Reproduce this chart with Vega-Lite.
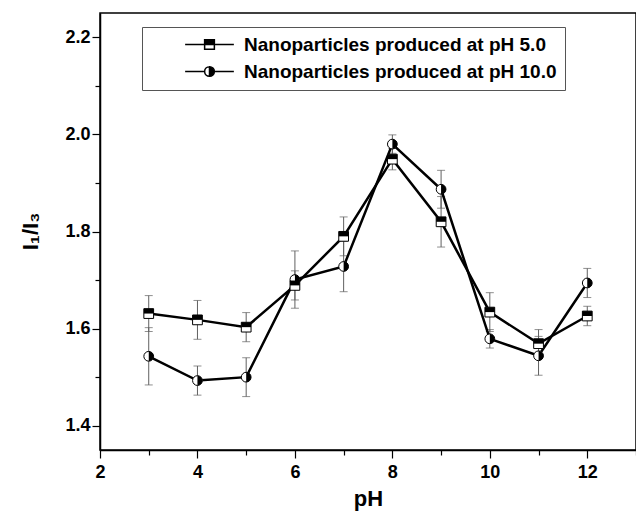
{
  "$schema": "https://vega.github.io/schema/vega-lite/v6.json",
  "autosize": {"type": "none"},
  "padding": {"left": 100, "top": 13, "right": 0, "bottom": 61},
  "width": 536,
  "height": 437,
  "config": {
    "view": {"stroke": "black", "strokeWidth": 1.5},
    "font": "Liberation Sans",
    "axis": {"domainColor": "black", "domainWidth": 1.5, "tickColor": "black", "tickWidth": 1.2, "grid": false,
      "labelFont": "Liberation Sans", "labelFontWeight": "bold", "labelFontSize": 18, "labelColor": "black",
      "titleFont": "Liberation Sans", "titleFontWeight": "bold", "titleFontSize": 22, "titleColor": "black"}
  },
  "data": {"values": [
    {"pH": 3, "series": "Nanoparticles produced at pH 5.0", "v": 1.631, "lo": 1.594, "hi": 1.668},
    {"pH": 4, "series": "Nanoparticles produced at pH 5.0", "v": 1.618, "lo": 1.578, "hi": 1.658},
    {"pH": 5, "series": "Nanoparticles produced at pH 5.0", "v": 1.603, "lo": 1.573, "hi": 1.633},
    {"pH": 6, "series": "Nanoparticles produced at pH 5.0", "v": 1.689, "lo": 1.659, "hi": 1.719},
    {"pH": 7, "series": "Nanoparticles produced at pH 5.0", "v": 1.790, "lo": 1.750, "hi": 1.830},
    {"pH": 8, "series": "Nanoparticles produced at pH 5.0", "v": 1.949, "lo": 1.927, "hi": 1.971},
    {"pH": 9, "series": "Nanoparticles produced at pH 5.0", "v": 1.820, "lo": 1.768, "hi": 1.872},
    {"pH": 10, "series": "Nanoparticles produced at pH 5.0", "v": 1.634, "lo": 1.594, "hi": 1.674},
    {"pH": 11, "series": "Nanoparticles produced at pH 5.0", "v": 1.569, "lo": 1.540, "hi": 1.598},
    {"pH": 12, "series": "Nanoparticles produced at pH 5.0", "v": 1.626, "lo": 1.606, "hi": 1.646},
    {"pH": 3, "series": "Nanoparticles produced at pH 10.0", "v": 1.543, "lo": 1.484, "hi": 1.602},
    {"pH": 4, "series": "Nanoparticles produced at pH 10.0", "v": 1.493, "lo": 1.463, "hi": 1.523},
    {"pH": 5, "series": "Nanoparticles produced at pH 10.0", "v": 1.500, "lo": 1.460, "hi": 1.540},
    {"pH": 6, "series": "Nanoparticles produced at pH 10.0", "v": 1.701, "lo": 1.642, "hi": 1.760},
    {"pH": 7, "series": "Nanoparticles produced at pH 10.0", "v": 1.728, "lo": 1.676, "hi": 1.780},
    {"pH": 8, "series": "Nanoparticles produced at pH 10.0", "v": 1.980, "lo": 1.961, "hi": 1.999},
    {"pH": 9, "series": "Nanoparticles produced at pH 10.0", "v": 1.887, "lo": 1.848, "hi": 1.926},
    {"pH": 10, "series": "Nanoparticles produced at pH 10.0", "v": 1.579, "lo": 1.560, "hi": 1.598},
    {"pH": 11, "series": "Nanoparticles produced at pH 10.0", "v": 1.544, "lo": 1.504, "hi": 1.584},
    {"pH": 12, "series": "Nanoparticles produced at pH 10.0", "v": 1.694, "lo": 1.664, "hi": 1.724}
  ]},
  "resolve": {"axis": {"x": "independent", "y": "independent"}, "scale": {"shape": "independent"}, "legend": {"shape": "independent"}},
  "layer": [
    {
      "mark": {"type": "rule", "color": "#606060", "strokeWidth": 1},
      "encoding": {
        "x": {"field": "pH", "type": "quantitative", "scale": {"domain": [2, 13], "nice": false, "zero": false},
          "axis": {"orient": "bottom", "values": [2, 4, 6, 8, 10, 12], "tickSize": 8, "labelPadding": 5, "title": "pH", "titleY": 55, "titleBaseline": "alphabetic", "labelFlush": false,
            "encode": {"ticks": {"update": {"y2": {"value": -8}}}}}},
        "y": {"field": "lo", "type": "quantitative", "scale": {"domain": [1.35, 2.25], "nice": false, "zero": false},
          "axis": {"orient": "left", "values": [1.4, 1.6, 1.8, 2.0, 2.2], "format": ".1f", "tickSize": 8, "labelPadding": 2, "title": "I₁/I₃", "titleX": -70, "titleY": 218, "titleAngle": 270, "titleBaseline": "middle", "labelFlush": false,
            "encode": {"ticks": {"update": {"x2": {"value": 8}}}}}},
        "y2": {"field": "hi"}
      }
    },
    {
      "mark": {"type": "tick", "orient": "horizontal", "color": "#606060", "size": 8, "thickness": 1},
      "encoding": {
        "x": {"field": "pH", "type": "quantitative", "axis": {"orient": "bottom", "values": [3, 5, 7, 9, 11, 13], "tickSize": 5, "labels": false, "domain": false, "title": null,
          "encode": {"ticks": {"update": {"y2": {"value": -5}}}}}},
        "y": {"field": "lo", "type": "quantitative", "axis": {"orient": "left", "values": [1.5, 1.7, 1.9, 2.1], "tickSize": 5, "labels": false, "domain": false, "title": null,
          "encode": {"ticks": {"update": {"x2": {"value": 5}}}}}}
      }
    },
    {
      "mark": {"type": "tick", "orient": "horizontal", "color": "#606060", "size": 8, "thickness": 1},
      "encoding": {
        "x": {"field": "pH", "type": "quantitative", "axis": null},
        "y": {"field": "hi", "type": "quantitative", "axis": null}
      }
    },
    {
      "mark": {"type": "line", "color": "black", "strokeWidth": 2.5},
      "encoding": {
        "x": {"field": "pH", "type": "quantitative", "axis": null},
        "y": {"field": "v", "type": "quantitative", "axis": null},
        "detail": {"field": "series"}
      }
    },
    {
      "mark": {"type": "point", "filled": true, "fill": "white", "stroke": "black", "strokeWidth": 1, "opacity": 1, "size": 95},
      "encoding": {
        "x": {"field": "pH", "type": "quantitative", "axis": null},
        "y": {"field": "v", "type": "quantitative", "axis": null},
        "shape": {"field": "series", "type": "nominal", "legend": null,
          "scale": {"domain": ["Nanoparticles produced at pH 5.0", "Nanoparticles produced at pH 10.0"], "range": ["square", "circle"]}}
      }
    },
    {
      "mark": {"type": "point", "filled": true, "fill": "black", "strokeWidth": 0, "opacity": 1, "size": 95},
      "encoding": {
        "x": {"field": "pH", "type": "quantitative", "axis": null},
        "y": {"field": "v", "type": "quantitative", "axis": null},
        "shape": {"field": "series", "type": "nominal", "legend": null,
          "scale": {"domain": ["Nanoparticles produced at pH 5.0", "Nanoparticles produced at pH 10.0"], "range": ["M-1,-1H1V0H-1Z", "M0,-1A1,1,0,0,1,0,1Z"]}}
      }
    },
    {
      "mark": {"type": "point", "filled": true, "fill": "black", "stroke": "black", "opacity": 0, "size": 95},
      "encoding": {
        "x": {"field": "pH", "type": "quantitative", "axis": null},
        "y": {"field": "v", "type": "quantitative", "axis": null},
        "shape": {"field": "series", "type": "nominal",
          "scale": {"domain": ["Nanoparticles produced at pH 5.0", "Nanoparticles produced at pH 10.0"],
            "range": ["M-5,0H-1M1,0H5M-1,-1H1V0H-1ZM-1,0L-1,1L1,1L1,0L1,1L-1,1Z", "M-5,0H-1M1,0H5M0,-1A1,1,0,0,1,0,1ZM0,-1A1,1,0,0,0,0,1A1,1,0,0,1,0,-1"]},
          "legend": {"title": null, "orient": "none", "legendX": 42, "legendY": 14, "padding": 8,
            "strokeColor": "#555555", "fillColor": "white", "symbolOffset": 50, "labelOffset": 25, "rowPadding": 7, "symbolSize": 95,
            "labelFont": "Liberation Sans", "labelFontWeight": "bold", "labelFontSize": 19, "labelColor": "black", "labelLimit": 500,
            "encode": {"symbols": {"update": {"fill": {"value": "black"}, "stroke": {"value": "black"}, "strokeWidth": {"value": 1.8}, "opacity": {"value": 1}, "fillOpacity": {"value": 1}, "strokeOpacity": {"value": 1}}}}}
        }
      }
    }
  ]
}
